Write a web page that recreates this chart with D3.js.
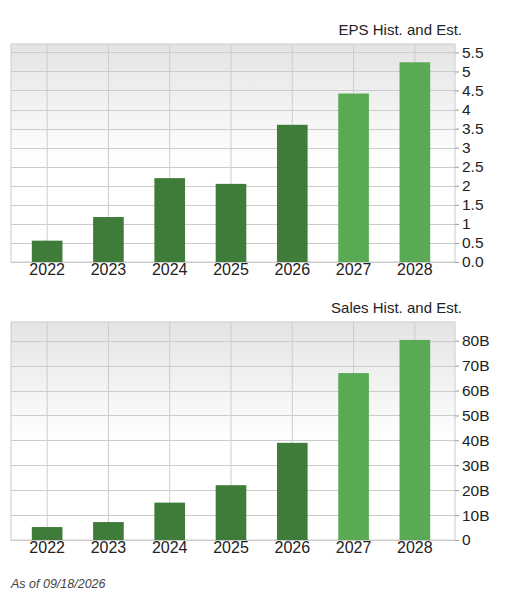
<!DOCTYPE html>
<html><head><meta charset="utf-8">
<script src="https://cdn.jsdelivr.net/npm/d3@7"></script>
<style>body{margin:0;background:#fff;font-family:"Liberation Sans",Arial,sans-serif;}</style>
</head><body>
<svg id="chart" width="511" height="603"></svg>
<script>
var years = ["2022", "2023", "2024", "2025", "2026", "2027", "2028"];
var estimated = [false, false, false, false, false, true, true];
var epsValues = [0.56, 1.18, 2.2, 2.05, 3.6, 4.42, 5.24];
var epsTicks = [0, 0.5, 1, 1.5, 2, 2.5, 3, 3.5, 4, 4.5, 5, 5.5];
var salesValues = [5.2, 7.2, 15, 22, 39, 67, 80.3];
var salesTicks = [0, 10, 20, 30, 40, 50, 60, 70, 80];

var svg = d3.select("#chart");
var defs = svg.append("defs");
var grad = defs.append("linearGradient").attr("id", "bg").attr("x1", 0).attr("y1", 0).attr("x2", 0).attr("y2", 1);
grad.append("stop").attr("offset", "0%").attr("stop-color", "#e4e4e4");
grad.append("stop").attr("offset", "55%").attr("stop-color", "#ffffff");
grad.append("stop").attr("offset", "100%").attr("stop-color", "#ffffff");

function drawPanel(top, bottom, values, ticks, maxVal, fmt, title) {
  var left = 11, right = 455;
  var g = svg.append("g");

  var x = d3.scaleBand().domain(years).range([16.5, 445.5]).paddingInner(0.5).paddingOuter(0.25);
  var y = d3.scaleLinear().domain([0, maxVal]).range([bottom, top]);

  g.append("rect").attr("x", left).attr("y", top).attr("width", right - left).attr("height", bottom - top)
    .attr("fill", "url(#bg)").attr("stroke", "#cccccc");

  g.selectAll(".hg").data(ticks).enter().append("line")
    .attr("x1", left).attr("x2", right)
    .attr("y1", function(d){ return Math.round(y(d)) + 0.5; })
    .attr("y2", function(d){ return Math.round(y(d)) + 0.5; })
    .attr("stroke", "#cccccc");

  g.selectAll(".vg").data(years).enter().append("line")
    .attr("x1", function(d){ return x(d) + x.bandwidth() / 2; })
    .attr("x2", function(d){ return x(d) + x.bandwidth() / 2; })
    .attr("y1", top).attr("y2", bottom)
    .attr("stroke", "#cccccc");

  g.selectAll(".bar").data(values).enter().append("rect")
    .attr("x", function(d, i){ return x(years[i]); })
    .attr("width", x.bandwidth())
    .attr("y", function(d){ return y(d); })
    .attr("height", function(d){ return bottom - y(d); })
    .attr("fill", function(d, i){ return estimated[i] ? "#5aaa55" : "#3f7c3a"; });

  var yAxis = d3.axisRight(y).tickValues(ticks).tickFormat(fmt).tickSize(4).tickPadding(3);
  var ya = g.append("g").attr("transform", "translate(" + right + ",0)").call(yAxis);
  ya.select(".domain").remove();
  ya.selectAll("line").attr("stroke", "#999");
  ya.selectAll("text").attr("font-size", 15.5).attr("fill", "#222").attr("font-family", "Liberation Sans, Arial, sans-serif");

  var xAxis = d3.axisBottom(x).tickSize(0).tickPadding(2);
  var xa = g.append("g").attr("transform", "translate(0," + bottom + ")").call(xAxis);
  xa.select(".domain").remove();
  xa.selectAll("text").attr("font-size", 16).attr("fill", "#222").attr("font-family", "Liberation Sans, Arial, sans-serif");

  g.append("text").attr("x", 462).attr("y", top - 9).attr("text-anchor", "end")
    .attr("font-size", 15).attr("fill", "#222").text(title);
}

drawPanel(44, 262, epsValues, epsTicks, 5.72, function(d){ return d === 0 ? "0.0" : String(d); }, "EPS Hist. and Est.");
drawPanel(322, 540, salesValues, salesTicks, 87.5, function(d){ return d === 0 ? "0" : d + "B"; }, "Sales Hist. and Est.");

svg.append("text").attr("x", 11).attr("y", 588).attr("font-size", 12.5).attr("font-style", "italic")
  .attr("fill", "#444").text("As of 09/18/2026");
</script>
</body></html>
